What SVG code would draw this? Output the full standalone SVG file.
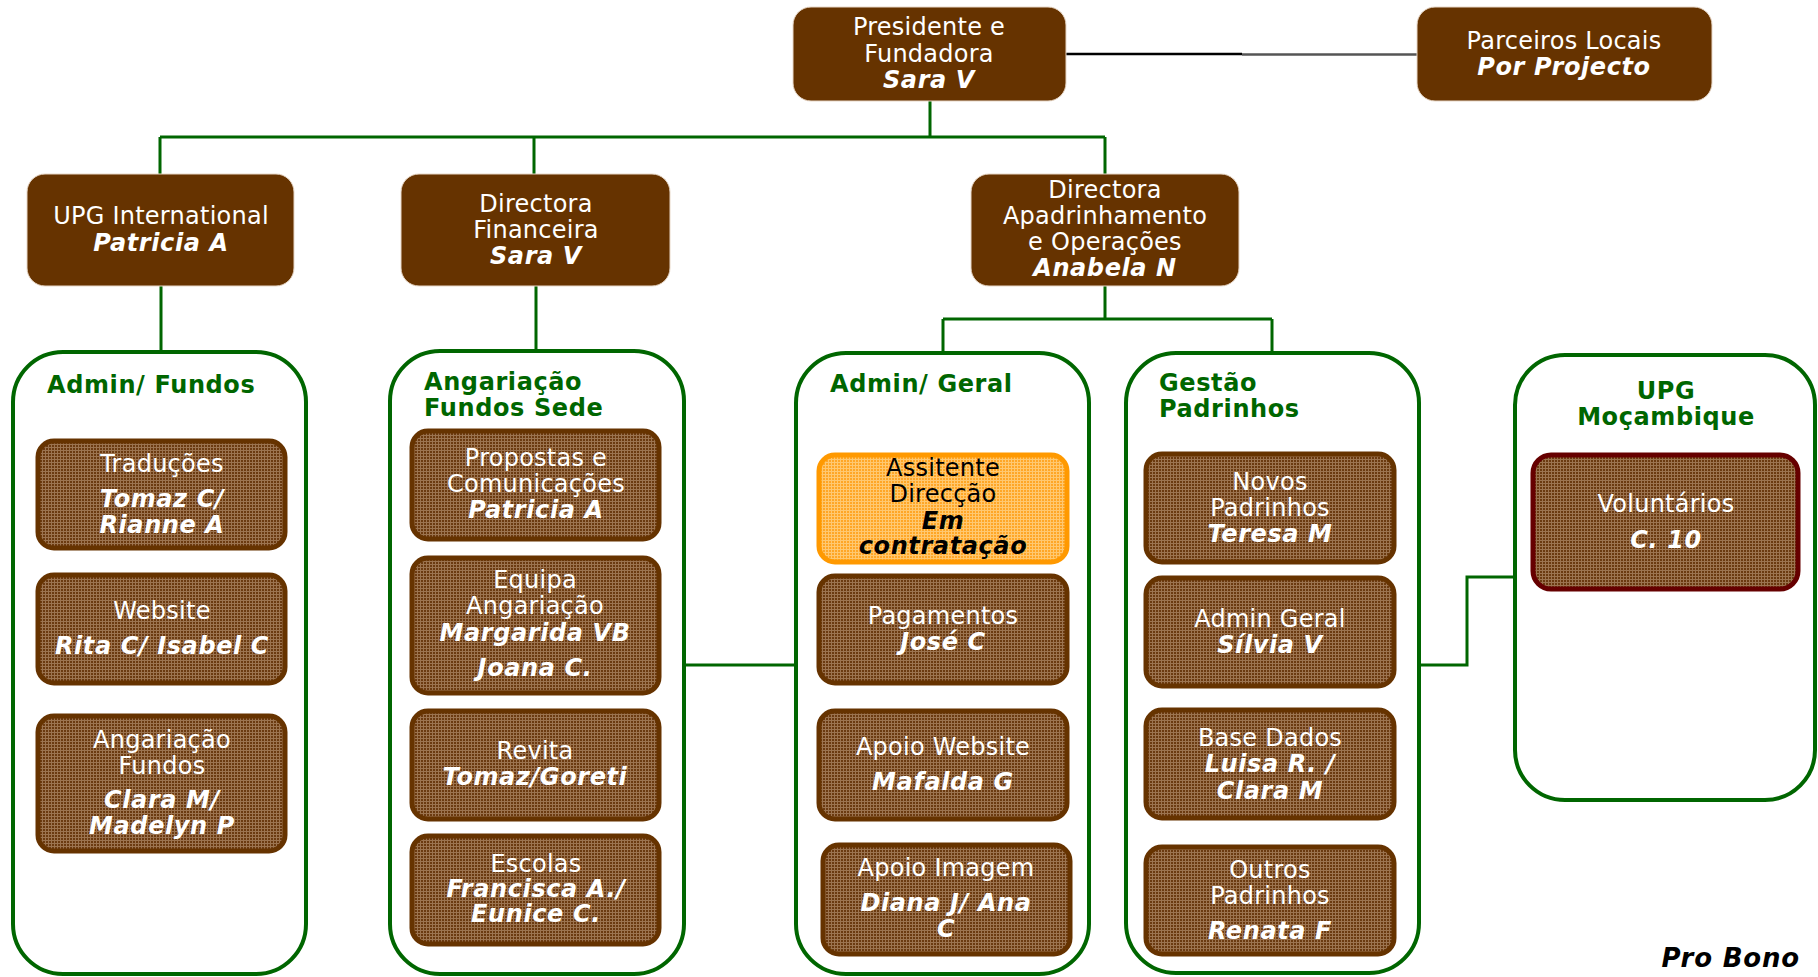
<svg xmlns="http://www.w3.org/2000/svg" width="1818" height="977" viewBox="0 0 1818 977">
<defs>
<pattern id="tex" width="3" height="3" patternUnits="userSpaceOnUse"><rect width="3" height="3" fill="#6b3a10"/><rect width="3" height="1" fill="#9c7450"/><rect width="1" height="3" fill="#9c7450"/></pattern>
<pattern id="otex" width="3" height="3" patternUnits="userSpaceOnUse"><rect width="3" height="3" fill="#ffa626"/><rect width="3" height="1" fill="#ffc870"/><rect width="1" height="3" fill="#ffc870"/></pattern>
<style>
.top{fill:#663300;stroke:#e8d8c8;stroke-width:1}
.cont{fill:#ffffff;stroke:#006600;stroke-width:4}
.inner{fill:url(#tex);stroke:#663300;stroke-width:5}
.orange{fill:url(#otex);stroke:#ff9900;stroke-width:5}
.vol{fill:url(#tex);stroke:#660000;stroke-width:5}
.conn{fill:none;stroke:#006600;stroke-width:3}
text{font-family:"DejaVu Sans","Verdana",sans-serif;font-size:24px;letter-spacing:0.25px;text-anchor:middle;fill:#ffffff}
.n{font-weight:bold;font-style:italic;letter-spacing:0.6px}
.dk{fill:#000000}
.ttl{font-weight:bold;fill:#006600;text-anchor:start;letter-spacing:0.6px}
.ttlc{font-weight:bold;fill:#006600;letter-spacing:0.6px}
</style>
</defs>
<rect width="1818" height="977" fill="#ffffff"/>
<g id="connectors">
<path class="conn" d="M930 101V137M160 137H1105M160 137V174M534 137V174M1105 137V174"/>
<path class="conn" d="M161 286V352M536 286V351"/>
<path class="conn" d="M1105 286V319M943 319H1272M943 319V353M1272 319V353"/>
<path class="conn" d="M684 665H796"/>
<path class="conn" d="M1419 665H1467V577H1515"/>
<path d="M1066 54H1242" stroke="#000000" stroke-width="2.5" fill="none"/>
<path d="M1242 54.5H1417" stroke="#555555" stroke-width="2.5" fill="none"/>
</g>
<g id="presidente">
<rect class="top" x="793" y="7" width="273" height="94" rx="18"/>
<text x="929" y="35">Presidente e</text><text x="929" y="62">Fundadora</text><text class="n" x="929" y="88">Sara V</text>
</g>
<g id="parceiros">
<rect class="top" x="1417" y="7" width="295" height="94" rx="18"/>
<text x="1564" y="49">Parceiros Locais</text><text class="n" x="1564" y="75">Por Projecto</text>
</g>
<g id="upg-international">
<rect class="top" x="27" y="174" width="267" height="112" rx="18"/>
<text x="161" y="224">UPG International</text><text class="n" x="161" y="251">Patricia A</text>
</g>
<g id="directora-financeira">
<rect class="top" x="401" y="174" width="269" height="112" rx="18"/>
<text x="536" y="212">Directora</text><text x="536" y="238">Financeira</text><text class="n" x="536" y="264">Sara V</text>
</g>
<g id="directora-apadrinhamento">
<rect class="top" x="971" y="174" width="268" height="112" rx="18"/>
<text x="1105" y="198">Directora</text><text x="1105" y="224">Apadrinhamento</text><text x="1105" y="250">e Operações</text><text class="n" x="1105" y="276">Anabela N</text>
</g>
<g id="admin-fundos">
<rect class="cont" x="13" y="352" width="293" height="622" rx="50"/>
<text class="ttl" x="47" y="393">Admin/ Fundos</text>
</g>
<g id="angariacao-sede">
<rect class="cont" x="390" y="351" width="294" height="623" rx="50"/>
<text class="ttl" x="424" y="390">Angariação</text><text class="ttl" x="424" y="416">Fundos Sede</text>
</g>
<g id="admin-geral">
<rect class="cont" x="796" y="353" width="293" height="621" rx="50"/>
<text class="ttl" x="830" y="392">Admin/ Geral</text>
</g>
<g id="gestao-padrinhos">
<rect class="cont" x="1126" y="353" width="293" height="620" rx="50"/>
<text class="ttl" x="1159" y="391">Gestão</text><text class="ttl" x="1159" y="417">Padrinhos</text>
</g>
<g id="upg-mocambique">
<rect class="cont" x="1515" y="355" width="300" height="445" rx="50"/>
<text class="ttlc" x="1666" y="399">UPG</text><text class="ttlc" x="1666" y="425">Moçambique</text>
</g>
<g id="traducoes">
<rect class="inner" x="38" y="441" width="247" height="107" rx="16"/>
<text x="162" y="472">Traduções</text><text class="n" x="162" y="507">Tomaz C/</text><text class="n" x="162" y="533">Rianne A</text>
</g>
<g id="website">
<rect class="inner" x="38" y="575" width="247" height="108" rx="16"/>
<text x="162" y="619">Website</text><text class="n" x="162" y="654">Rita C/ Isabel C</text>
</g>
<g id="angariacao-fundos">
<rect class="inner" x="38" y="716" width="247" height="135" rx="16"/>
<text x="162" y="748">Angariação</text><text x="162" y="774">Fundos</text><text class="n" x="162" y="808">Clara M/</text><text class="n" x="162" y="834">Madelyn P</text>
</g>
<g id="propostas">
<rect class="inner" x="412" y="431" width="247" height="108" rx="16"/>
<text x="536" y="466">Propostas e</text><text x="536" y="492">Comunicações</text><text class="n" x="536" y="518">Patricia A</text>
</g>
<g id="equipa">
<rect class="inner" x="412" y="558" width="247" height="135" rx="16"/>
<text x="535" y="588">Equipa</text><text x="535" y="614">Angariação</text><text class="n" x="535" y="641">Margarida VB</text><text class="n" x="535" y="676">Joana C.</text>
</g>
<g id="revita">
<rect class="inner" x="412" y="711" width="247" height="108" rx="16"/>
<text x="535" y="759">Revita</text><text class="n" x="535" y="785">Tomaz/Goreti</text>
</g>
<g id="escolas">
<rect class="inner" x="412" y="836" width="247" height="108" rx="16"/>
<text x="536" y="872">Escolas</text><text class="n" x="536" y="897">Francisca A./</text><text class="n" x="536" y="922">Eunice C.</text>
</g>
<g id="assistente">
<rect class="orange" x="819" y="455" width="248" height="107" rx="16"/>
<text class="dk" x="943" y="476">Assitente</text><text class="dk" x="943" y="502">Direcção</text><text class="dk n" x="943" y="529">Em</text><text class="dk n" x="943" y="554">contratação</text>
</g>
<g id="pagamentos">
<rect class="inner" x="819" y="576" width="248" height="107" rx="16"/>
<text x="943" y="624">Pagamentos</text><text class="n" x="943" y="650">José C</text>
</g>
<g id="apoio-website">
<rect class="inner" x="819" y="711" width="248" height="108" rx="16"/>
<text x="943" y="755">Apoio Website</text><text class="n" x="943" y="790">Mafalda G</text>
</g>
<g id="apoio-imagem">
<rect class="inner" x="823" y="845" width="247" height="109" rx="16"/>
<text x="946" y="876">Apoio Imagem</text><text class="n" x="946" y="911">Diana J/ Ana</text><text class="n" x="946" y="937">C</text>
</g>
<g id="novos-padrinhos">
<rect class="inner" x="1146" y="454" width="248" height="108" rx="16"/>
<text x="1270" y="490">Novos</text><text x="1270" y="516">Padrinhos</text><text class="n" x="1270" y="542">Teresa M</text>
</g>
<g id="admin-geral-silvia">
<rect class="inner" x="1146" y="578" width="248" height="108" rx="16"/>
<text x="1270" y="627">Admin Geral</text><text class="n" x="1270" y="653">Sílvia V</text>
</g>
<g id="base-dados">
<rect class="inner" x="1146" y="710" width="248" height="108" rx="16"/>
<text x="1270" y="746">Base Dados</text><text class="n" x="1270" y="772">Luisa R. /</text><text class="n" x="1270" y="799">Clara M</text>
</g>
<g id="outros-padrinhos">
<rect class="inner" x="1146" y="847" width="248" height="107" rx="16"/>
<text x="1270" y="878">Outros</text><text x="1270" y="904">Padrinhos</text><text class="n" x="1270" y="939">Renata F</text>
</g>
<g id="voluntarios">
<rect class="vol" x="1533" y="455" width="265" height="134" rx="18"/>
<text x="1666" y="512">Voluntários</text><text class="n" x="1666" y="548">C. 10</text>
</g>
<text class="n dk" x="1800" y="967" style="text-anchor:end;font-size:26px;letter-spacing:0.8px">Pro Bono</text>
</svg>
